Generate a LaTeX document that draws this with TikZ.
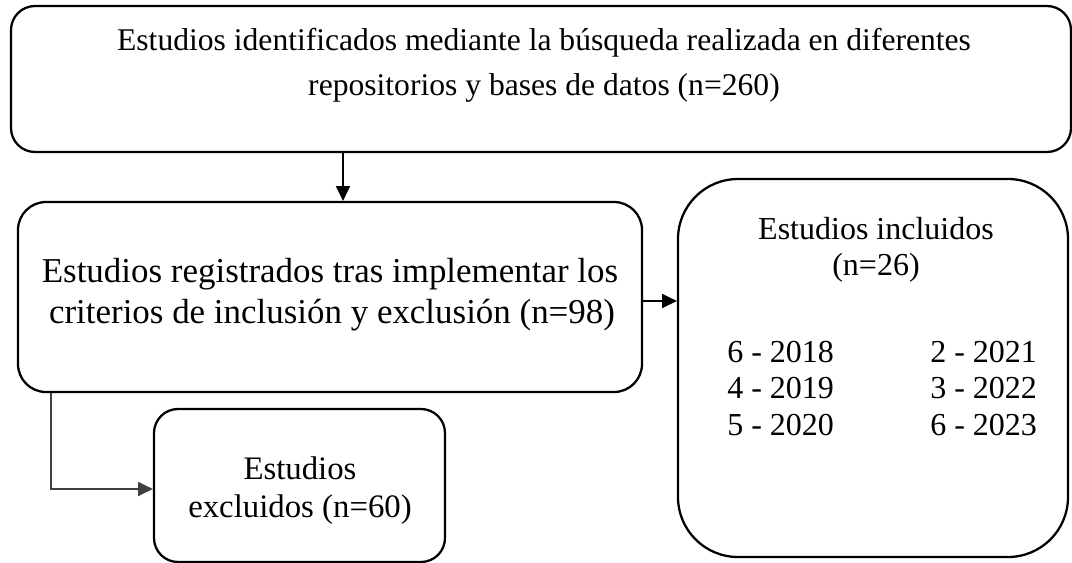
\documentclass[tikz,border=0pt]{standalone}
\usepackage{fontspec}
\setmainfont{Liberation Serif}
\usetikzlibrary{arrows.meta}
\begin{document}
\begin{tikzpicture}[x=0.75pt,y=-0.75pt,
  box/.style={draw=black,line width=1.7pt,rectangle,inner sep=0pt},
  txt/.style={anchor=base,inner sep=0pt,font=\fontsize{24}{28}\selectfont},
  bigtxt/.style={txt,font=\fontsize{26.2}{30}\selectfont},
  arr/.style={draw=black,line width=1pt,-{Triangle[length=11pt,width=10.5pt]}}]
\useasboundingbox (0,0) rectangle (1072,562);
% boxes
\node[box,rounded corners=18pt,minimum width=1060*0.75pt,minimum height=146*0.75pt] (top) at (541,79) {};
\node[box,rounded corners=21pt,minimum width=624*0.75pt,minimum height=190*0.75pt] (mid) at (330,297) {};
\node[box,rounded corners=45pt,minimum width=390*0.75pt,minimum height=378*0.75pt] (inc) at (873,368) {};
\node[box,rounded corners=18pt,minimum width=291*0.75pt,minimum height=153*0.75pt] (exc) at (299.5,485.5) {};
% texts
\node[txt,font=\fontsize{23.7}{28}\selectfont] (t1) at (544,50) {Estudios identificados mediante la búsqueda realizada en diferentes};
\node[txt,font=\fontsize{23.7}{28}\selectfont] (t2) at (544,95) {repositorios y bases de datos (n=260)};
\node[bigtxt] (m1) at (330,282) {Estudios registrados tras implementar los};
\node[bigtxt] (m2) at (332,323) {criterios de inclusión y exclusión (n=98)};
\node[txt] (i1) at (876,239) {Estudios incluidos};
\node[txt] (i2) at (876,275) {(n=26)};
\node[txt,anchor=base west] (y1) at (727,362) {6 - 2018};
\node[txt,anchor=base west] (y2) at (727,398) {4 - 2019};
\node[txt,anchor=base west] (y3) at (727,435) {5 - 2020};
\node[txt,anchor=base west] (y4) at (930,362) {2 - 2021};
\node[txt,anchor=base west] (y5) at (930,398) {3 - 2022};
\node[txt,anchor=base west] (y6) at (930,435) {6 - 2023};
\node[txt,font=\fontsize{24.6}{28}\selectfont] (e1) at (300,479) {Estudios};
\node[txt,font=\fontsize{24.6}{28}\selectfont] (e2) at (300,517) {excluidos (n=60)};
% connectors
\coordinate (c1) at (343,0);
\coordinate (c2) at (0,301);
\coordinate (c3) at (51,0);
\coordinate (c4) at (0,489);
\draw[arr] (top.south -| c1) -- (mid.north -| c1);
\draw[arr] (mid.east |- c2) -- (inc.west |- c2);
\draw[arr,draw=black!75] (mid.south -| c3) |- (exc.west |- c4);
\end{tikzpicture}
\end{document}
